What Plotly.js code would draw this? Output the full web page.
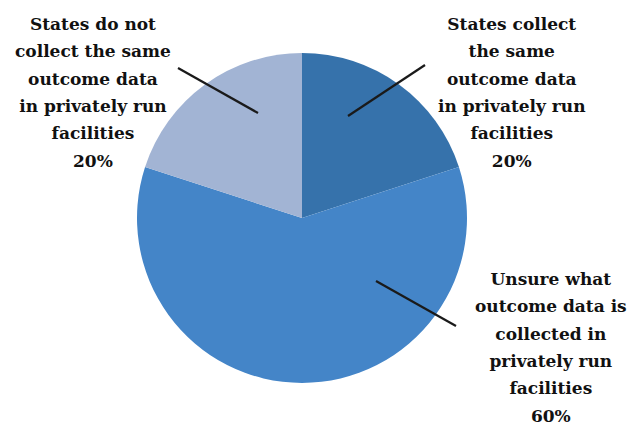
<!DOCTYPE html>
<html>
<head>
<meta charset="utf-8">
<script src="https://cdn.plot.ly/plotly-3.0.1.min.js"></script>
<style>html,body{margin:0;padding:0;background:#fff;}#chart{width:628px;height:426px;}</style>
</head>
<body>
<div id="chart"></div>
<script>
const categories = [
  "States collect the same outcome data in privately run facilities",
  "Unsure what outcome data is collected in privately run facilities",
  "States do not collect the same outcome data in privately run facilities"
];
const labelLines = [
  ["States collect", "the same", "outcome data", "in privately run", "facilities"],
  ["Unsure what", "outcome data is", "collected in", "privately run", "facilities"],
  ["States do not", "collect the same", "outcome data", "in privately run", "facilities"]
];
const values = [20, 60, 20];
const colors = ["#3672ab", "#4485c8", "#a2b4d4"];

const W = 628, H = 426;
const px = (x) => x / W;
const py = (y) => 1 - y / H;

const total = values.reduce((a, b) => a + b, 0);
const pct = values.map(v => Math.round(v / total * 100) + "%");

// label layout (text centre and leader line end points, in pixels)
const labelPos = [
  {x: 512, y: 92, line: [[425, 65], [348, 116]]},
  {x: 551, y: 347, line: [[456, 326], [376, 281]]},
  {x: 93, y: 92, line: [[178, 68], [258, 113]]}
];

const FONT = "DejaVu Serif";
const TEXT_SIZE = 17;   // glyph size
const LINE_SIZE = 21;   // controls line spacing (1.3em)

const annotations = categories.map((c, i) => ({
  xref: "paper", yref: "paper",
  x: px(labelPos[i].x), y: py(labelPos[i].y),
  xanchor: "center", yanchor: "middle",
  text: labelLines[i].concat([pct[i]])
    .map(t => "<span style='font-size:" + TEXT_SIZE + "px'><b>" + t + "</b></span>")
    .join("<br>"),
  showarrow: false,
  align: "center",
  font: {family: FONT, size: LINE_SIZE, color: "#111", weight: "bold"}
}));
const shapes = labelPos.map(p => ({
  type: "line", xref: "paper", yref: "paper",
  x0: px(p.line[0][0]), y0: py(p.line[0][1]),
  x1: px(p.line[1][0]), y1: py(p.line[1][1]),
  line: {color: "#1a1a1a", width: 2.2}
}));

const cx = 302, cy = 218, R = 165;
const trace = {
  type: "pie",
  labels: categories,
  values: values,
  sort: false,
  direction: "clockwise",
  rotation: 0,
  textinfo: "none",
  hoverinfo: "label+percent",
  marker: {colors: colors, line: {width: 0}},
  domain: {x: [px(cx - R), px(cx + R)], y: [py(cy + R), py(cy - R)]}
};

Plotly.newPlot("chart", [trace], {
  width: W, height: H,
  margin: {l: 0, r: 0, t: 0, b: 0},
  showlegend: false,
  paper_bgcolor: "#fff",
  font: {family: FONT},
  annotations: annotations,
  shapes: shapes
}, {staticPlot: true});
</script>
</body>
</html>
